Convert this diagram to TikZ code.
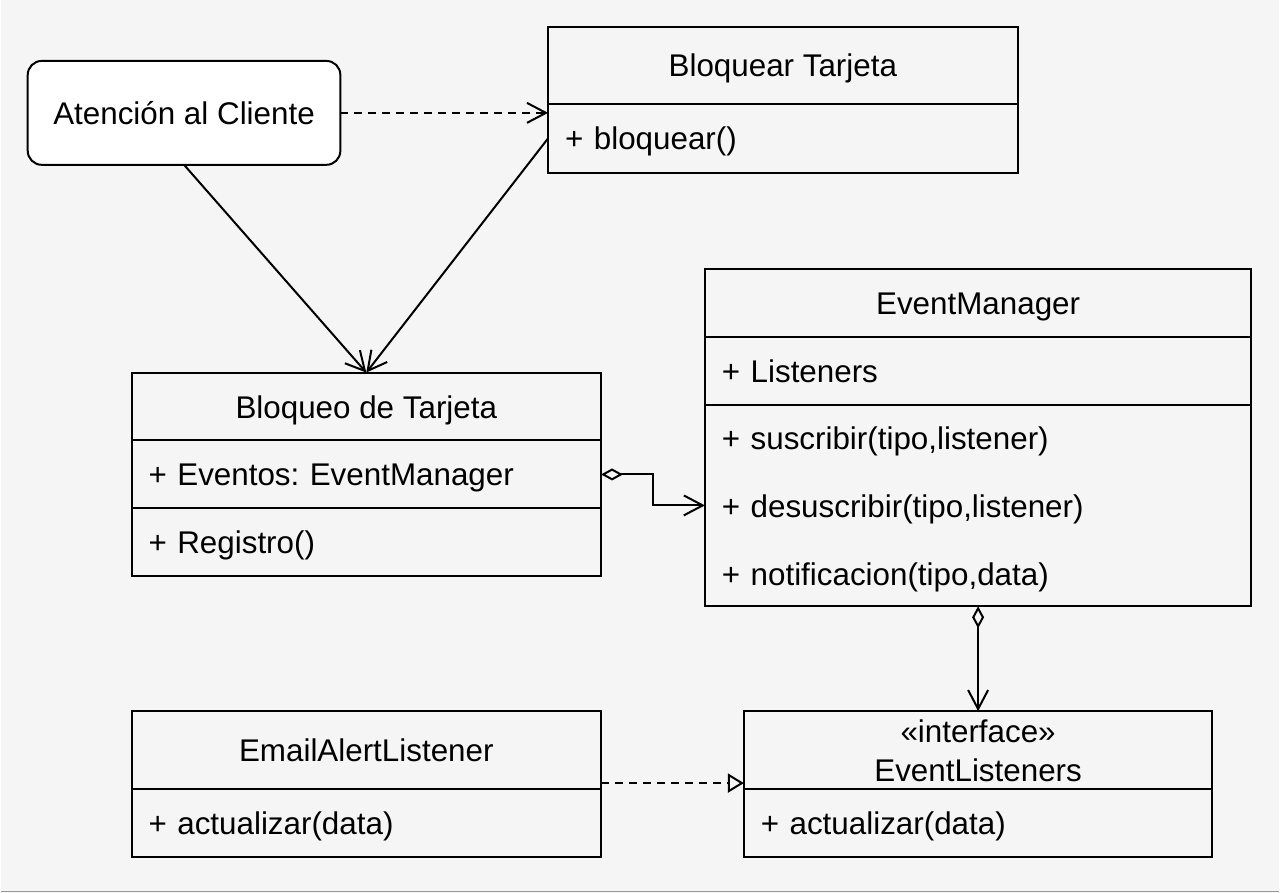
\documentclass[tikz,border=0pt]{standalone}
\usepackage{fontspec}
\setmainfont{Liberation Sans}
\usetikzlibrary{arrows.meta,calc}
\definecolor{bgcol}{HTML}{F5F5F5}
\frenchspacing

\begin{document}
\begin{tikzpicture}[x=0.5pt,y=-0.5pt,line width=1pt,
	every node/.style={font=\fontsize{15.7}{19.5}\selectfont, inner sep=0pt, outer sep=0pt, text height=11.5pt, text depth=0pt},
	clshead/.style={draw, minimum width=#1, anchor=north west},
	clsrow/.style={draw, text width=#1, inner xsep=8.5pt, align=left, anchor=north},
	dep/.style={dash pattern=on 4pt off 3pt},
	assoc/.style={-{Straight Barb[length=9.5pt,width=10pt]}},
	aggr/.style={{Diamond[open,length=11pt,width=6pt]}-{Straight Barb[length=9.5pt,width=10pt]}},
	real/.style={-{Triangle[open,length=8pt,width=9.5pt]}}]
		
		\fill[bgcol] (0,0) rectangle (1280,894);
		\draw[gray!80, line width=0.75pt] (0,892.5) -- (1280,892.5);
		
		\node[draw, fill=white, rounded corners=7pt, minimum width=156.5pt, minimum height=52pt, anchor=north west] (ac) at (27,61) {Atención al Cliente};
		
		\node[clshead=235pt, minimum height=38.5pt] (bq) at (548,27) {Bloquear Tarjeta};
		\node[clsrow=218pt, minimum height=34.5pt] (bq-m) at (bq.south) {+ bloquear()};
		
		\node[clshead=235pt, minimum height=34pt] (bt) at (131,373) {Bloqueo de Tarjeta};
		\node[clsrow=218pt, minimum height=34pt] (bt-a) at (bt.south) {+ Eventos: EventManager};
		\node[clsrow=218pt, minimum height=34pt] (bt-m) at (bt-a.south) {+ Registro()};
		
		\node[clshead=273.5pt, minimum height=34pt] (em) at (705,269) {EventManager};
		\node[clsrow=256.5pt, minimum height=34pt] (em-a) at (em.south) {+ Listeners};
		\node[clsrow=256.5pt, minimum height=101pt, font=\fontsize{15.7}{34}\selectfont, text height=12.2pt, text depth=68pt] (em-m) at (em-a.south) {+ suscribir(tipo,listener)\\+ desuscribir(tipo,listener)\\+ notificacion(tipo,data)};
		
		\node[clshead=235pt, minimum height=39pt] (ea) at (131,712) {EmailAlertListener};
		\node[clsrow=218pt, minimum height=34pt] (ea-m) at (ea.south) {+ actualizar(data)};
		
		\node[clshead=234.5pt, minimum height=39pt, align=center, text height=31pt] (el) at (744,712) {«interface»\\EventListeners};
		\node[clsrow=217.5pt, minimum height=34pt] (el-m) at (el.south) {+ actualizar(data)};
		
		\draw[dep, assoc] (ac.east) -- (ac.east -| bq-m.west);
		\draw[assoc] (ac.south) -- (bt.north);
		\draw[assoc] (bq-m.west) -- (bt.north);
		\draw[aggr] (bt-a.east) -- ++(52,0) |- (em-m.west);
		\draw[aggr] (em-m.south) -- (el.north);
		\draw[dep, real] ([yshift=3pt]ea.south east) -- ([yshift=3pt]el.south west);
		
\end{tikzpicture}
\end{document}
